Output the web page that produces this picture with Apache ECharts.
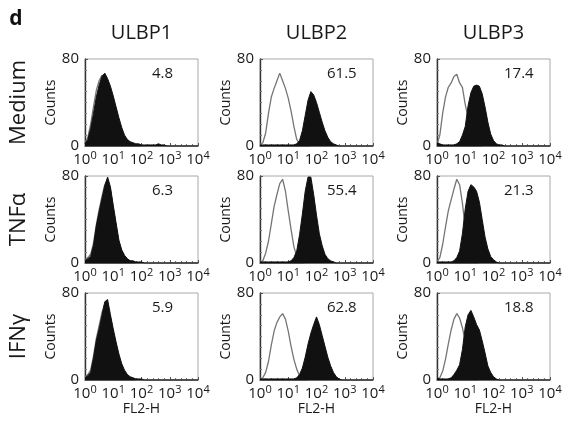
<!DOCTYPE html>
<html><head><meta charset="utf-8">
<script src="https://cdn.jsdelivr.net/npm/echarts@6/dist/echarts.min.js"></script>
<style>html,body{margin:0;padding:0;background:#fff}#c{width:566px;height:422px}</style>
</head><body><div id="c"></div>
<script>
// log10(FL2-H) positions of histogram bins
const fl = [0.0,0.1,0.2,0.3,0.4,0.5,0.6,0.7,0.8,0.9,1.0,1.1,1.2,1.3,1.4,1.5,1.6,1.7,1.8,1.9,2.0,2.1,2.2,2.3,2.4,2.5,2.6,2.7,2.8,2.9,3.0,4.0];
const markers = ['ULBP1','ULBP2','ULBP3'];
const treatments = ['Medium','TNFα','IFNγ'];
const xTicks = [0,1,2,3,4];
const yTicks = [0,80];
const percents = [['4.8','61.5','17.4'],['6.3','55.4','21.3'],['5.9','62.8','18.8']];

// Medium
const ctrl_M1 = [3,8,20,36,51,60,65,64,58,50,41,31,21,13,7,4,2,1,1,1,0,0,0,0,0,0,0,0,0,0,0,0];
const stain_M1 = [2,6,16,30,45,56,64,67,62,55,46,36,26,17,10,6,4,3,2,2,1,1,1,1,1,1,2,1,1,0,0,0];
const ctrl_M2 = [1,3,12,30,45,53,60,67,60,53,44,32,18,6,2,1,1,1,0,0,0,0,0,0,0,0,0,0,0,0,0,0];
const stain_M2 = [1,1,1,1,1,1,1,1,1,1,1,1,1,2,5,14,28,42,50,47,40,31,22,14,8,4,2,1,0,0,0,0];
const ctrl_M3 = [1,10,30,45,54,58,64,66,58,54,38,26,14,6,2,1,0,0,0,0,0,0,0,0,0,0,0,0,0,0,0,0];
const stain_M3 = [3,2,1,1,1,1,1,2,4,10,18,37,49,55,56,55,48,36,22,11,5,2,1,1,0,0,0,0,0,0,0,0];
// TNFα
const ctrl_T1 = [3,5,8,18,35,49,61,72,77,67,50,34,19,11,6,3,2,1,0,0,0,0,0,0,0,0,0,0,0,0,0,0];
const stain_T1 = [2,4,6,16,34,47,59,71,79,70,53,37,21,12,7,4,2,2,1,1,1,0,0,0,0,0,0,0,0,0,0,0];
const ctrl_T2 = [1,2,9,20,36,52,63,73,77,66,48,31,15,6,2,1,0,0,0,0,0,0,0,0,0,0,0,0,0,0,0,0];
const stain_T2 = [1,1,1,1,1,1,1,1,1,1,1,2,5,11,26,45,66,79,79,63,44,27,16,8,4,2,1,0,0,0,0,0];
const ctrl_T3 = [1,5,17,33,48,58,68,77,72,55,32,16,7,3,1,0,0,0,0,0,0,0,0,0,0,0,0,0,0,0,0,0];
const stain_T3 = [1,1,1,1,1,1,2,5,11,27,50,66,72,70,66,56,40,24,13,6,3,1,0,0,0,0,0,0,0,0,0,0];
// IFNγ
const ctrl_I1 = [3,5,9,22,38,50,62,70,70,57,44,32,21,12,7,4,2,1,0,0,0,0,0,0,0,0,0,0,0,0,0,0];
const stain_I1 = [2,4,7,20,36,47,59,72,74,60,47,35,24,15,9,5,3,2,1,1,1,0,0,0,0,0,0,0,0,0,0,0];
const ctrl_I2 = [1,2,7,17,32,45,53,58,61,56,45,31,19,10,4,2,1,0,0,0,0,0,0,0,0,0,0,0,0,0,0,0];
const stain_I2 = [1,1,1,1,1,1,1,1,1,1,1,1,1,2,5,11,21,33,43,51,58,51,41,31,21,13,7,3,1,0,0,0];
const ctrl_I3 = [1,2,8,19,33,46,56,61,57,48,36,20,9,4,1,0,0,0,0,0,0,0,0,0,0,0,0,0,0,0,0,0];
const stain_I3 = [2,1,1,1,1,2,5,9,14,28,49,60,64,58,51,46,36,25,13,7,3,1,0,0,0,0,0,0,0,0,0,0];

const controls = [[ctrl_M1,ctrl_M2,ctrl_M3],[ctrl_T1,ctrl_T2,ctrl_T3],[ctrl_I1,ctrl_I2,ctrl_I3]];
const stains = [[stain_M1,stain_M2,stain_M3],[stain_T1,stain_T2,stain_T3],[stain_I1,stain_I2,stain_I3]];

const colLeft = [85, 260, 437];
const rowTop = [59, 176, 293];
const plotW = 113, plotH = 87;
const FONT = 'Open Sans';
const TXT = '#1a1a1a';

const grid = [], xAxis = [], yAxis = [], series = [], graphic = [];
for (let r = 0; r < 3; r++) {
  for (let c = 0; c < 3; c++) {
    const i = r * 3 + c;
    grid.push({left: colLeft[c], top: rowTop[r], width: plotW, height: plotH,
      show: true, borderColor: '#a8a8a8', borderWidth: 1, backgroundColor: 'transparent'});
    xAxis.push({type: 'value', gridIndex: i, min: xTicks[0], max: xTicks[xTicks.length-1], interval: 1,
      name: r === 2 ? 'FL2-H' : '', nameLocation: 'middle', nameGap: 21,
      nameTextStyle: {fontFamily: FONT, fontSize: 14, color: TXT},
      axisLine: {show: true, onZero: false, lineStyle: {color: '#555', width: 1.2}},
      axisTick: {show: true, inside: true, length: 3, lineStyle: {color: '#555'}},
      minorTick: {show: true, splitNumber: 5, length: 2, lineStyle: {color: '#777'}},
      splitLine: {show: false},
      axisLabel: {margin: 4, formatter: v => '{b|10}{s|' + v + '}',
        rich: {b: {fontFamily: FONT, fontSize: 15, color: TXT},
               s: {fontFamily: FONT, fontSize: 11, color: TXT, padding: [0, 0, 8, 0]}}}
    });
    yAxis.push({type: 'value', gridIndex: i, min: yTicks[0], max: yTicks[1], interval: 80,
      name: 'Counts', nameLocation: 'middle', nameGap: 24, nameRotate: 90,
      nameTextStyle: {fontFamily: FONT, fontSize: 14, color: TXT},
      axisLine: {show: true, lineStyle: {color: '#333', width: 1.4}},
      axisTick: {show: true, inside: true, length: 3, lineStyle: {color: '#555'}},
      minorTick: {show: true, splitNumber: 8, length: 2, lineStyle: {color: '#777'}},
      splitLine: {show: false},
      axisLabel: {margin: 6, fontFamily: FONT, fontSize: 15, color: TXT}
    });
    series.push({type: 'line', xAxisIndex: i, yAxisIndex: i, showSymbol: false, z: 2,
      data: fl.map((x, k) => [x, controls[r][c][k]]),
      lineStyle: {color: '#757575', width: 1.3}});
    series.push({type: 'line', xAxisIndex: i, yAxisIndex: i, showSymbol: false, z: 3,
      data: fl.map((x, k) => [x, stains[r][c][k]]),
      lineStyle: {color: '#111', width: 1}, areaStyle: {color: '#111', opacity: 1}});
    graphic.push({type: 'text', left: colLeft[c] + plotW - 6 - 40, top: rowTop[r] + 7,
      style: {text: percents[r][c], fontFamily: FONT, fontSize: 15, fill: TXT, width: 40, align: 'right'}});
  }
}
for (let c = 0; c < 3; c++) {
  graphic.push({type: 'text', x: colLeft[c] + plotW / 2, y: 33,
    style: {text: markers[c], fontFamily: FONT, fontSize: 20, fill: TXT, textAlign: 'center', textVerticalAlign: 'middle'}});
}
for (let r = 0; r < 3; r++) {
  graphic.push({type: 'text', x: 19, y: rowTop[r] + plotH / 2, rotation: Math.PI / 2,
    style: {text: treatments[r], fontFamily: FONT, fontSize: 22, fill: TXT, textAlign: 'center', textVerticalAlign: 'middle'}});
}
graphic.push({type: 'text', x: 16, y: 19,
  style: {text: 'd', fontFamily: FONT, fontSize: 21, fontWeight: 'bold', fill: '#111', textAlign: 'center', textVerticalAlign: 'middle'}});

const chart = echarts.init(document.getElementById('c'), null, {renderer: 'canvas'});
chart.setOption({backgroundColor: '#fff', animation: false, grid, xAxis, yAxis, series, graphic});
</script></body></html>
